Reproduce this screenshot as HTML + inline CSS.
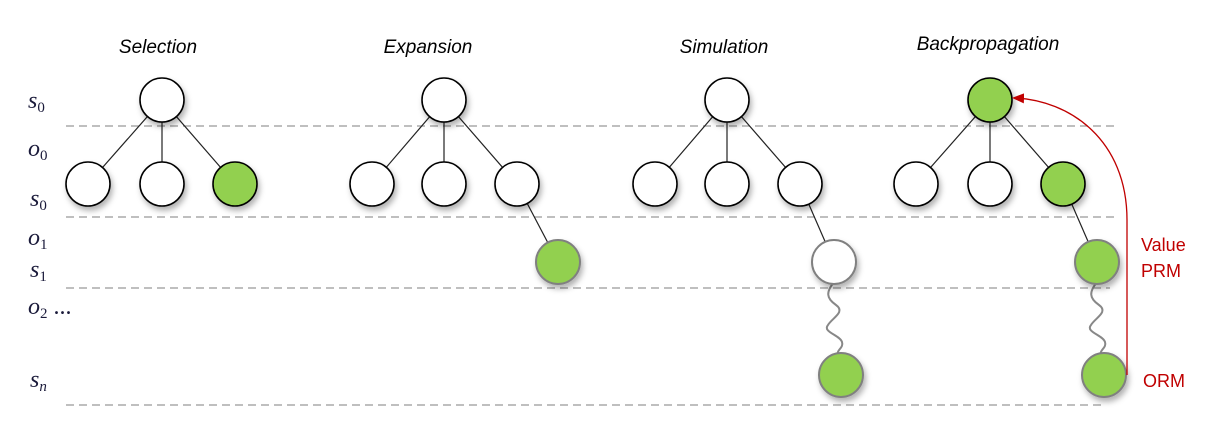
<!DOCTYPE html>
<html><head><meta charset="utf-8"><style>
html,body{margin:0;padding:0;background:#fff;}
svg{display:block;}
.t{font-family:"Liberation Sans",sans-serif;font-style:italic;font-size:19px;fill:#000;}
.v{font-family:"Liberation Serif",serif;font-style:italic;font-size:24px;fill:#1a1a3a;}
.r{font-family:"Liberation Sans",sans-serif;font-size:18px;fill:#c00000;}
</style></head><body>
<svg width="1215" height="433" viewBox="0 0 1215 433" xmlns="http://www.w3.org/2000/svg">
<defs>
<filter id="sh" x="-50%" y="-50%" width="200%" height="200%"><feDropShadow dx="2" dy="4" stdDeviation="3" flood-color="#000" flood-opacity="0.3"/></filter>
<marker id="ar" markerWidth="12" markerHeight="10" refX="10" refY="5" orient="auto" markerUnits="userSpaceOnUse"><path d="M0,0 L12,5 L0,10 z" fill="#c00000"/></marker>
</defs>
<g stroke="#999" stroke-width="1.3" stroke-dasharray="8,5">
<line x1="66" y1="126" x2="1115" y2="126"/>
<line x1="66" y1="217" x2="1115" y2="217"/>
<line x1="66" y1="288" x2="1110" y2="288"/>
<line x1="66" y1="405" x2="1105" y2="405"/>
</g>
<text class="t" x="158" y="53" text-anchor="middle">Selection</text>
<text class="t" x="428" y="53" text-anchor="middle">Expansion</text>
<text class="t" x="724" y="53" text-anchor="middle">Simulation</text>
<text class="t" x="988" y="50" text-anchor="middle">Backpropagation</text>
<text class="v" x="28" y="108">s<tspan font-size="15" dy="4" font-style="normal">0</tspan></text>
<text class="v" x="28" y="156">o<tspan font-size="15" dy="4" font-style="normal">0</tspan></text>
<text class="v" x="30" y="206">s<tspan font-size="15" dy="4" font-style="normal">0</tspan></text>
<text class="v" x="28" y="245">o<tspan font-size="15" dy="4" font-style="normal">1</tspan></text>
<text class="v" x="30" y="277">s<tspan font-size="15" dy="4" font-style="normal">1</tspan></text>
<text class="v" x="28" y="314">o<tspan font-size="15" dy="4" font-style="normal">2</tspan><tspan dy="-4" font-style="normal"> ...</tspan></text>
<text class="v" x="30" y="387">s<tspan font-size="15" dy="4">n</tspan></text>
<g stroke="#222" stroke-width="1.2">
<line x1="162" y1="100" x2="88" y2="184"/><line x1="162" y1="100" x2="162" y2="184"/><line x1="162" y1="100" x2="235" y2="184"/>
<line x1="444" y1="100" x2="372" y2="184"/><line x1="444" y1="100" x2="444" y2="184"/><line x1="444" y1="100" x2="517" y2="184"/><line x1="517" y1="184" x2="558" y2="262"/>
<line x1="727" y1="100" x2="655" y2="184"/><line x1="727" y1="100" x2="727" y2="184"/><line x1="727" y1="100" x2="800" y2="184"/><line x1="800" y1="184" x2="834" y2="262"/>
<line x1="990" y1="100" x2="916" y2="184"/><line x1="990" y1="100" x2="990" y2="184"/><line x1="990" y1="100" x2="1063" y2="184"/><line x1="1063" y1="184" x2="1097" y2="262"/>
</g>
<g fill="none" stroke="#888" stroke-width="2">
<path d="M834,282 C826,292 826,298 836,305 C846,312 832,318 828,325 C822,332 840,335 842,342 C844,348 836,350 838,355"/>
<path d="M1097,282 C1089,292 1089,298 1099,305 C1109,312 1095,318 1091,325 C1085,332 1103,335 1105,342 C1107,348 1099,350 1101,355"/>
</g>
<g filter="url(#sh)" stroke-width="1.6">
<g stroke="#000" fill="#fff">
<circle cx="162" cy="100" r="22"/><circle cx="88" cy="184" r="22"/><circle cx="162" cy="184" r="22"/>
<circle cx="444" cy="100" r="22"/><circle cx="372" cy="184" r="22"/><circle cx="444" cy="184" r="22"/><circle cx="517" cy="184" r="22"/>
<circle cx="727" cy="100" r="22"/><circle cx="655" cy="184" r="22"/><circle cx="727" cy="184" r="22"/><circle cx="800" cy="184" r="22"/>
<circle cx="916" cy="184" r="22"/><circle cx="990" cy="184" r="22"/>
</g>
<g stroke="#000" fill="#92d050">
<circle cx="235" cy="184" r="22"/><circle cx="990" cy="100" r="22"/><circle cx="1063" cy="184" r="22"/>
</g>
<circle cx="834" cy="262" r="22" fill="#fff" stroke="#808080" stroke-width="2"/>
<g stroke="#808080" stroke-width="2" fill="#92d050">
<circle cx="558" cy="262" r="22"/><circle cx="841" cy="375" r="22"/><circle cx="1097" cy="262" r="22"/><circle cx="1104" cy="375" r="22"/>
</g>
</g>
<path d="M1127,375 L1127,220 C1127,140 1070,100 1014,98" fill="none" stroke="#c00000" stroke-width="1.3" marker-end="url(#ar)"/>
<text class="r" x="1141" y="251">Value</text>
<text class="r" x="1141" y="277">PRM</text>
<text class="r" x="1143" y="387">ORM</text>
</svg>
</body></html>
